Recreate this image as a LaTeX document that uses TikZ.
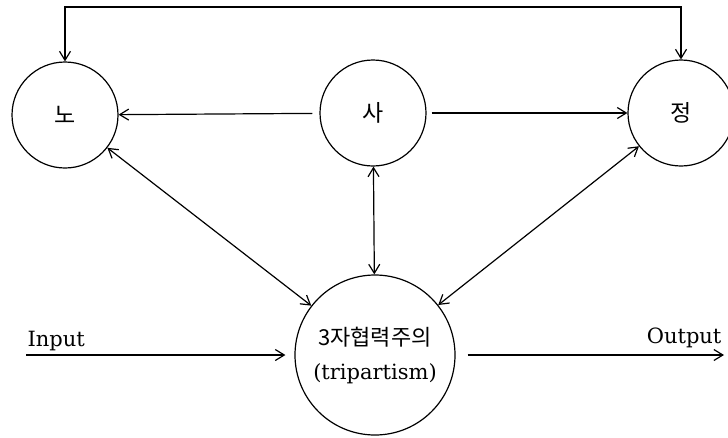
\documentclass[tikz,border=0pt]{standalone}
\usepackage{fontspec}
\setmainfont{DejaVu Serif}
\newfontfamily\cjk{Noto Sans CJK KR}
\usetikzlibrary{arrows.meta}

\begin{document}
\begin{tikzpicture}[x=1pt, y=-1pt, line width=1.2pt,
  party/.style={draw, circle, minimum size=106pt, inner sep=0pt,
    font=\fontsize{23}{26}\selectfont\cjk},
  barb/.style={-{Straight Barb[length=9pt,width=11pt]}},
  both/.style={{Straight Barb[length=9pt,width=11pt]}-{Straight Barb[length=9pt,width=11pt]}},
  lbl/.style={font=\fontsize{21}{30}\selectfont, inner sep=0pt}]
  \useasboundingbox[fill=white] (0,0) rectangle (728,437);

  % 노, 사, 정
  \node[party] (no) at (65,115) {노};
  \node[party] (sa) at (373,113) {사};
  \node[party] (jeong) at (681,113) {정};

  % 3자협력주의
  \node[draw, circle, minimum size=160pt, inner sep=0pt, align=center,
    font=\fontsize{21}{34}\selectfont] (tri) at (375,355)
    {{\cjk\fontsize{22}{34}\selectfont 3자협력주의}\\(tripartism)};

  \coordinate (bend) at (0,7);
  \coordinate (in) at (26,355);
  \coordinate (out) at (724,355);

  % 연결선
  \draw[both] (no.north) -- (no.north |- bend) -- (jeong.north |- bend) -- (jeong.north);
  \draw[barb, shorten <=7pt] (sa) -- (no);
  \draw[barb, shorten <=5pt] (sa) -- (jeong);
  \draw[both] (no) -- (tri);
  \draw[both] (sa) -- (tri);
  \draw[both] (jeong) -- (tri);

  % Input / Output
  \draw[barb, shorten >=9pt] (in) -- (tri);
  \draw[barb, shorten <=12pt] (tri) -- (out);
  \node[lbl, anchor=base west] (inlbl) at (27,346) {Input};
  \node[lbl, anchor=base east] (outlbl) at (722,343) {Output};
\end{tikzpicture}
\end{document}
